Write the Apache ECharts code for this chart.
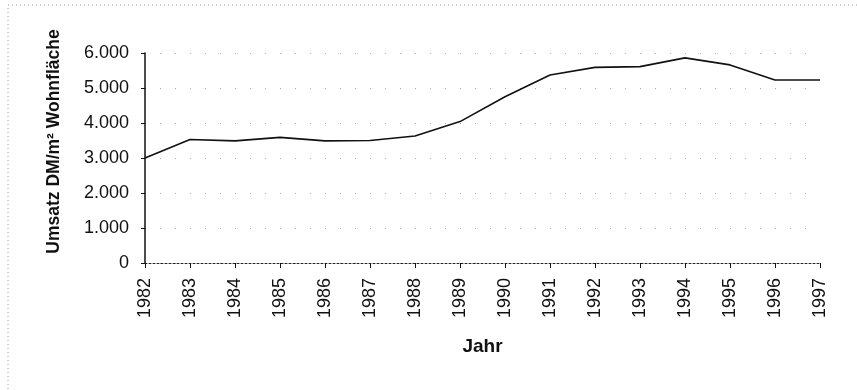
<!DOCTYPE html>
<html>
<head>
<meta charset="utf-8">
<script src="https://cdn.jsdelivr.net/npm/echarts@6/dist/echarts.min.js"></script>
<style>
  html, body { margin: 0; padding: 0; background: #fff; }
  #chart { width: 857px; height: 390px; }
</style>
</head>
<body>
<div id="chart"></div>
<script>
// Jahre und Umsatz pro m² Wohnfläche (DM)
const years = ['1982','1983','1984','1985','1986','1987','1988','1989','1990','1991','1992','1993','1994','1995','1996','1997'];
const umsatz = [3000, 3530, 3490, 3590, 3490, 3500, 3630, 4040, 4750, 5370, 5590, 5610, 5860, 5660, 5230, 5230];
const yTicks = [0, 1000, 2000, 3000, 4000, 5000, 6000];

const fmt = v => v === 0 ? '0' : (v / 1000).toFixed(0) + '.' + String(v % 1000).padStart(3, '0');

const chart = echarts.init(document.getElementById('chart'));
chart.setOption({
  animation: false,
  backgroundColor: '#fff',
  textStyle: { fontFamily: 'Liberation Sans, Arial, sans-serif' },
  grid: { left: 145, right: 37, top: 53, bottom: 127, containLabel: false },
  graphic: [{
    type: 'rect',
    shape: { x: 8, y: 5, width: 860, height: 400 },
    style: { fill: 'none', stroke: '#9a9a9a', lineWidth: 1, lineDash: [1, 3] },
    silent: true
  }],
  xAxis: {
    type: 'category',
    data: years,
    boundaryGap: false,
    name: 'Jahr',
    nameLocation: 'middle',
    nameGap: 74,
    nameTextStyle: { fontSize: 19, fontWeight: 'bold', color: '#111' },
    axisLine: { lineStyle: { color: '#222', width: 1, type: [2, 2] } },
    axisTick: { show: true, inside: false, length: 5, lineStyle: { color: '#111' } },
    axisLabel: { rotate: 90, fontSize: 18, color: '#111', margin: 15 },
    splitLine: { show: false }
  },
  yAxis: {
    type: 'value',
    min: 0,
    max: 6000,
    interval: 1000,
    name: 'Umsatz DM/m² Wohnfläche',
    nameLocation: 'middle',
    nameRotate: 90,
    nameGap: 82,
    nameTextStyle: { fontSize: 17.5, fontWeight: 'bold', color: '#111', padding: [0, 0, 0, 33] },
    axisLine: { show: true, lineStyle: { color: '#111', width: 1.5 } },
    axisTick: { show: true, length: 4, lineStyle: { color: '#111' } },
    axisLabel: {
      fontSize: 18, color: '#111', margin: 16,
      formatter: v => yTicks.includes(v) ? fmt(v) : ''
    },
    splitLine: { show: true, lineStyle: { color: '#aaa', width: 1, type: [1, 14] } }
  },
  series: [{
    type: 'line',
    data: umsatz,
    symbol: 'none',
    lineStyle: { color: '#111', width: 1.6 }
  }]
});
</script>
</body>
</html>
